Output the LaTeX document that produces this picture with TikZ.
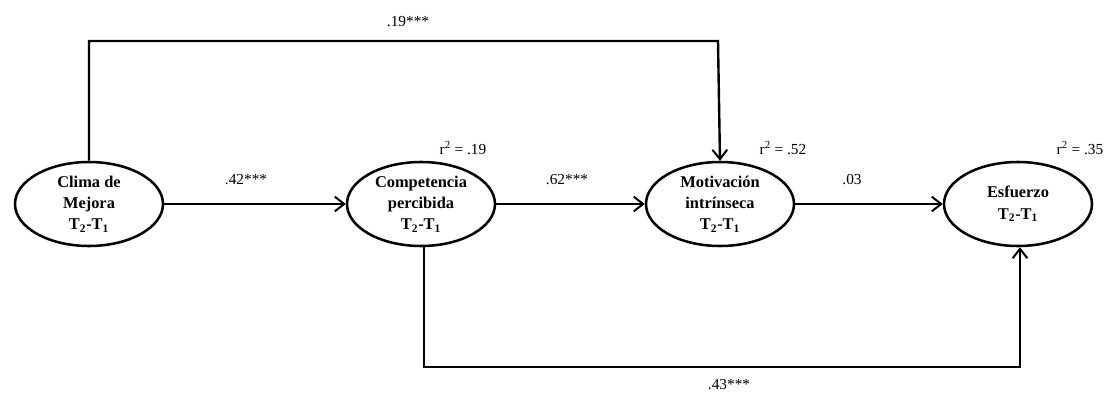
\documentclass[tikz,border=0pt]{standalone}
\usepackage{fontspec}
\setmainfont{Liberation Serif}
\usetikzlibrary{arrows.meta,shapes.geometric}
\begin{document}
\begin{tikzpicture}[x=0.75pt,y=-0.75pt,
  var/.style={draw,line width=1.9pt,ellipse,minimum width=111pt,minimum height=63pt,inner sep=0pt,align=center,font=\fontsize{12.3}{16}\selectfont\bfseries},
  path/.style={line width=1.8pt,-{Straight Barb[length=7pt,width=11pt,line width=1.5pt]}},
  lab/.style={font=\fontsize{11.5}{13}\selectfont,inner sep=1pt}]
\useasboundingbox (0,0) rectangle (1111,396);
\node[var] (cm) at (89,204) {Clima de\\Mejora\\T\textsubscript{2}-T\textsubscript{1}};
\node[var] (cp) at (421,204) {Competencia\\percibida\\T\textsubscript{2}-T\textsubscript{1}};
\node[var] (mi) at (720,204) {Motivación\\intrínseca\\T\textsubscript{2}-T\textsubscript{1}};
\node[var] (es) at (1018,204) {Esfuerzo\\T\textsubscript{2}-T\textsubscript{1}};
\coordinate (tl) at (89,41);
\coordinate (tr) at (718,41);
\coordinate (bl) at (424,367);
\coordinate (br) at (1020,367);
\draw[path] (cm.north) -- (tl) -- (tr) -- (mi.north);
\draw[path] (cm.east) -- (cp.west);
\draw[path] (cp.east) -- (mi.west);
\draw[path] (mi.east) -- (es.west);
\draw[path] (cp.south -| bl) -- (bl) -- (br) -- (es.south -| br);
\node[lab] (l19) at (408,22) {.19***};
\node[lab] (l42) at (246,180) {.42***};
\node[lab] (l62) at (567,180) {.62***};
\node[lab] (l03) at (852,180) {.03};
\node[lab] (l43) at (729,385) {.43***};
\node[lab] (r1) at (463,148) {r\textsuperscript{2} = .19};
\node[lab] (r2) at (783,148) {r\textsuperscript{2} = .52};
\node[lab] (r3) at (1080,148) {r\textsuperscript{2} = .35};
\end{tikzpicture}
\end{document}
